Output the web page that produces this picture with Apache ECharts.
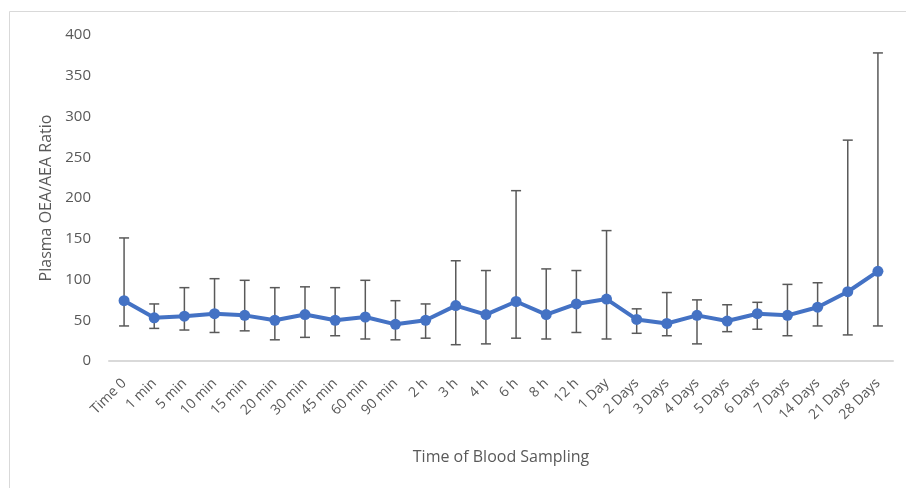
<!DOCTYPE html>
<html>
<head>
<meta charset="utf-8">
<script src="https://cdn.jsdelivr.net/npm/echarts@6/dist/echarts.min.js"></script>
<style>
  html, body { margin: 0; padding: 0; background: #fff; }
  #chart { width: 906px; height: 488px; }
</style>
</head>
<body>
<div id="chart"></div>
<script>
// time points
var categories = ['Time 0', '1 min', '5 min', '10 min', '15 min', '20 min', '30 min', '45 min', '60 min', '90 min',
  '2 h', '3 h', '4 h', '6 h', '8 h', '12 h', '1 Day', '2 Days', '3 Days', '4 Days', '5 Days', '6 Days',
  '7 Days', '14 Days', '21 Days', '28 Days'];
// mean ratio
var ratio = [74, 53, 55, 58, 56, 50, 57, 50, 54, 45, 50, 68, 57, 73, 57, 70, 76, 51, 46, 56, 49, 58, 56, 66, 85, 110];
// error bar ends
var errLow = [43, 40, 38, 35, 37, 26, 29, 31, 27, 26, 28, 20, 21, 28, 27, 35, 27, 34, 31, 21, 36, 39, 31, 43, 32, 43];
var errHigh = [151, 70, 90, 101, 99, 90, 91, 90, 99, 74, 70, 123, 111, 209, 113, 111, 160, 64, 84, 75, 69, 72, 94, 96, 271, 378];

var errData = [];
for (var i = 0; i < categories.length; i++) {
  errData.push([i, errLow[i], errHigh[i]]);
}

var chart = echarts.init(document.getElementById('chart'));
var textColor = '#595959';
var fontName = '"Open Sans", sans-serif';

var option = {
  animation: false,
  graphic: [{
    type: 'rect',
    shape: { x: 9.5, y: 11.5, width: 1000, height: 1000 },
    style: { fill: 'none', stroke: '#d9d9d9', lineWidth: 1 },
    silent: true
  }],
  grid: { left: 109, right: 13, top: 35, bottom: 127 },
  xAxis: {
    type: 'category',
    data: categories,
    name: 'Time of Blood Sampling',
    nameLocation: 'middle',
    nameGap: 88,
    nameTextStyle: { color: textColor, fontSize: 16, fontFamily: fontName },
    axisLine: { lineStyle: { color: '#d9d9d9', width: 2 } },
    axisTick: { show: false },
    axisLabel: {
      rotate: 45,
      interval: 0,
      margin: 20,
      color: textColor,
      fontSize: 14,
      fontFamily: fontName
    }
  },
  yAxis: {
    type: 'value',
    min: 0,
    max: 400,
    interval: 50,
    name: 'Plasma OEA/AEA Ratio',
    nameLocation: 'middle',
    nameGap: 50,
    nameTextStyle: { color: textColor, fontSize: 16, fontFamily: fontName },
    axisLine: { show: false },
    axisTick: { show: false },
    splitLine: { show: false },
    axisLabel: { margin: 18, color: textColor, fontSize: 15, fontFamily: fontName }
  },
  series: [
    {
      type: 'custom',
      name: 'error',
      data: errData,
      z: 1,
      renderItem: function (params, api) {
        var x = api.value(0);
        var lo = api.coord([x, api.value(1)]);
        var hi = api.coord([x, api.value(2)]);
        var hw = 5;
        var style = { stroke: '#595959', lineWidth: 1.5 };
        return {
          type: 'group',
          children: [
            { type: 'line', shape: { x1: hi[0], y1: hi[1], x2: lo[0], y2: lo[1] }, style: style },
            { type: 'line', shape: { x1: hi[0] - hw, y1: hi[1], x2: hi[0] + hw, y2: hi[1] }, style: style },
            { type: 'line', shape: { x1: lo[0] - hw, y1: lo[1], x2: lo[0] + hw, y2: lo[1] }, style: style }
          ]
        };
      }
    },
    {
      type: 'line',
      name: 'ratio',
      data: ratio,
      z: 3,
      symbol: 'circle',
      symbolSize: 11,
      lineStyle: { color: '#4472C4', width: 4 },
      itemStyle: { color: '#4472C4' }
    }
  ]
};

chart.setOption(option);
</script>
</body>
</html>
